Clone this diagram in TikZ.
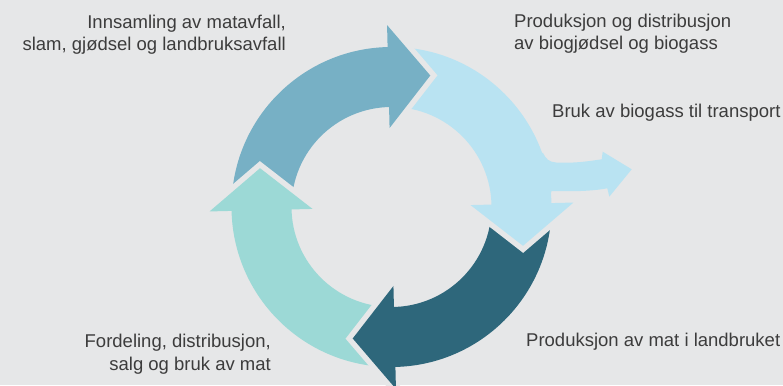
\documentclass[tikz,border=0pt]{standalone}
\usepackage{fontspec}
\setmainfont{Liberation Sans}
\definecolor{bgc}{HTML}{E6E7E8}
\definecolor{cblue}{HTML}{77B0C5}
\definecolor{clight}{HTML}{B9E3F2}
\definecolor{cdark}{HTML}{2E677B}
\definecolor{cteal}{HTML}{9CD9D6}
\definecolor{ctext}{HTML}{3C3C3C}
\newcommand\cycbody[2]{%
  \begin{scope}[shift={(C)},rotate=#1]
    \fill[#2] (88:160) arc[start angle=88,end angle=-1,radius=160] -- (-1:100) arc[start angle=-1,end angle=88,radius=100] -- cycle;
  \end{scope}}
\newcommand\cychead[2]{%
  \begin{scope}[shift={(C)},rotate=#1]
    \draw[bgc,line width=11pt,line join=miter] (182,0) -- (130.5,-42) -- (79,0);
    \fill[#2] (79,0) -- (182,0) -- (130.5,-42) -- cycle;
  \end{scope}}
\begin{document}
\begin{tikzpicture}[x=1pt,y=1pt,
  lbl/.style={inner sep=0pt,text=ctext,font=\fontsize{18.5}{22.5}\selectfont}]
\fill[bgc] (0,0) rectangle (783,385);
\useasboundingbox (0,0) rectangle (783,385);
\coordinate (C) at (391.5,178);
% bodies
\cycbody{91.4}{cblue}
\cycbody{1.4}{clight}
\cycbody{-88.6}{cdark}
\cycbody{181.4}{cteal}
% branch arrow
\fill[clight] (530,235) -- (543,232) .. controls (546,226) and (549,223) .. (556,222.5)
  .. controls (575,221.5) and (590,224) .. (601.7,225.7) -- (602.7,233.3) -- (631.7,215.7)
  -- (609.3,188.3) -- (607.3,196.7) .. controls (590,193.5) and (570,193.5) .. (551.5,194)
  -- (549,183) -- (530,183) -- cycle;
% heads
\cychead{91.4}{cblue}
\cychead{1.4}{clight}
\cychead{-88.6}{cdark}
\cychead{181.4}{cteal}
% labels
\node[lbl,anchor=base east,align=right] (t1) at (286,334) {Innsamling av matavfall,\\slam, gjødsel og landbruksavfall};
\node[lbl,anchor=base west,align=left] (t2) at (514,335) {Produksjon og distribusjon\\av biogjødsel og biogass};
\node[lbl,anchor=base west] (t3) at (552,267) {Bruk av biogass til transport};
\node[lbl,anchor=base east,align=right] (t4) at (271,15) {Fordeling, distribusjon,\\salg og bruk av mat};
\node[lbl,anchor=base west] (t5) at (526,38) {Produksjon av mat i landbruket};
\end{tikzpicture}
\end{document}
